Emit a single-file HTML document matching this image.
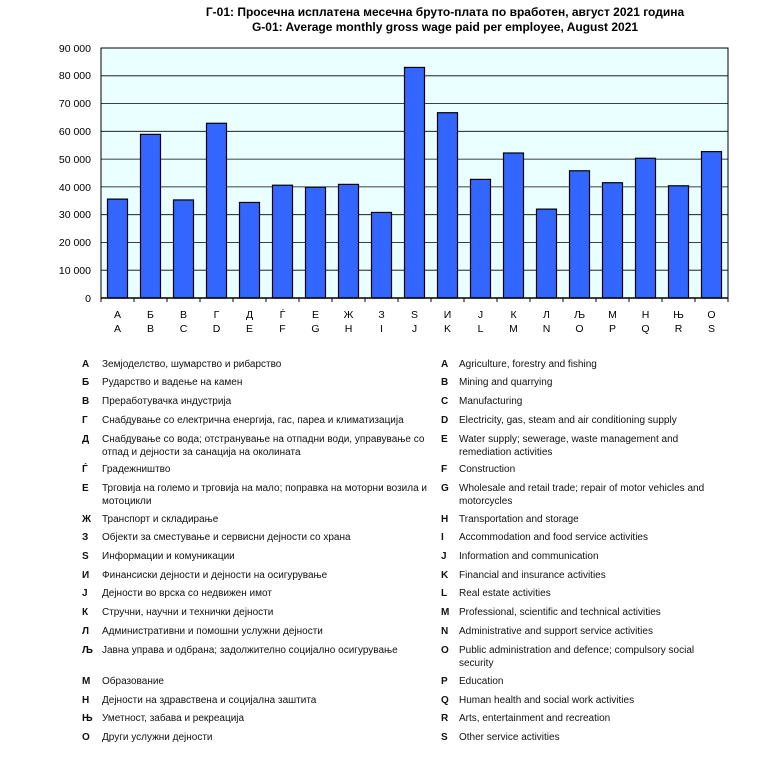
<!DOCTYPE html>
<html><head><meta charset="utf-8"><style>
body{margin:0;width:783px;height:762px;background:#fff;font-family:"Liberation Sans",sans-serif;position:relative;overflow:hidden}
.r{position:absolute;font-size:10px;line-height:12.5px;white-space:nowrap;color:#111;margin-top:1px}
.l{position:absolute;font-size:10px;font-weight:bold;color:#111;margin-top:1px}
</style></head><body>
<svg width="783" height="340" style="position:absolute;left:0;top:0" font-family="Liberation Sans, sans-serif">
<text x="445" y="16" text-anchor="middle" font-size="12" font-weight="bold">Г-01: Просечна исплатена месечна бруто-плата по вработен, август 2021 година</text>
<text x="445" y="31" text-anchor="middle" font-size="12" font-weight="bold">G-01: Average monthly gross wage paid per employee, August 2021</text>
<rect x="101" y="48" width="627" height="250" fill="#eaffff" stroke="#000" stroke-width="1"/>
<g stroke="#000" stroke-width="0.8">
<line x1="101" x2="728" y1="75.8" y2="75.8"/><line x1="101" x2="728" y1="103.6" y2="103.6"/>
<line x1="101" x2="728" y1="131.3" y2="131.3"/><line x1="101" x2="728" y1="159.1" y2="159.1"/>
<line x1="101" x2="728" y1="186.9" y2="186.9"/><line x1="101" x2="728" y1="214.7" y2="214.7"/>
<line x1="101" x2="728" y1="242.4" y2="242.4"/><line x1="101" x2="728" y1="270.2" y2="270.2"/>
</g>
<g font-size="10.5" text-anchor="end">
<text x="91" y="52">90 000</text><text x="91" y="79">80 000</text><text x="91" y="107">70 000</text>
<text x="91" y="135">60 000</text><text x="91" y="163">50 000</text><text x="91" y="191">40 000</text>
<text x="91" y="218">30 000</text><text x="91" y="246">20 000</text><text x="91" y="274">10 000</text>
<text x="91" y="302">0</text>
</g>
<g fill="#3366ff" stroke="#000" stroke-width="1.2" id="bars"></g>
<line x1="101" x2="728" y1="298" y2="298" stroke="#000" stroke-width="1.5"/>
<g id="ticks" stroke="#000"></g>
<g id="xl" font-size="10.5" text-anchor="middle"></g>
</svg>
<script>
var v=[35.6,58.9,35.3,62.9,34.4,40.6,39.9,40.9,30.8,83.0,66.7,42.7,52.2,32.0,45.8,41.5,50.3,40.4,52.7];
var a="А Б В Г Д Ѓ Е Ж З S И Ј К Л Љ М Н Њ О".split(" ");
var b="A B C D E F G H I J K L M N O P Q R S".split(" ");
var ns="http://www.w3.org/2000/svg",g=document.getElementById("bars"),t=document.getElementById("ticks"),x=document.getElementById("xl");
function el(n,p,par){var e=document.createElementNS(ns,n);for(var k in p)e.setAttribute(k,p[k]);par.appendChild(e);return e;}
for(var i=0;i<19;i++){var c=101+33*(i+0.5),h=v[i]/90*250;
el("rect",{x:c-10,y:298-h,width:20,height:h},g);
el("line",{x1:101+33*i,x2:101+33*i,y1:298,y2:302},t);
el("text",{x:c,y:318},x).textContent=a[i];
el("text",{x:c,y:332},x).textContent=b[i];}
el("line",{x1:728,x2:728,y1:298,y2:302},t);
</script>
<div class="l" style="left:82px;top:358px">А</div><div class="r" style="left:102px;top:358px">Земјоделство, шумарство и рибарство</div>
<div class="l" style="left:82px;top:376px">Б</div><div class="r" style="left:102px;top:376px">Рударство и вадење на камен</div>
<div class="l" style="left:82px;top:395px">В</div><div class="r" style="left:102px;top:395px">Преработувачка индустрија</div>
<div class="l" style="left:82px;top:414px">Г</div><div class="r" style="left:102px;top:414px">Снабдување со електрична енергија, гас, пареа и климатизација</div>
<div class="l" style="left:82px;top:433px">Д</div><div class="r" style="left:102px;top:433px">Снабдување со вода; отстранување на отпадни води, управување со<br>отпад и дејности за санација на околината</div>
<div class="l" style="left:82px;top:463px">Ѓ</div><div class="r" style="left:102px;top:463px">Градежништво</div>
<div class="l" style="left:82px;top:482px">Е</div><div class="r" style="left:102px;top:482px">Трговија на големо и трговија на мало; поправка на моторни возила и<br>мотоцикли</div>
<div class="l" style="left:82px;top:513px">Ж</div><div class="r" style="left:102px;top:513px">Транспорт и складирање</div>
<div class="l" style="left:82px;top:531px">З</div><div class="r" style="left:102px;top:531px">Објекти за сместување и сервисни дејности со храна</div>
<div class="l" style="left:82px;top:550px">S</div><div class="r" style="left:102px;top:550px">Информации и комуникации</div>
<div class="l" style="left:82px;top:569px">И</div><div class="r" style="left:102px;top:569px">Финансиски дејности и дејности на осигурување</div>
<div class="l" style="left:82px;top:587px">Ј</div><div class="r" style="left:102px;top:587px">Дејности во врска со недвижен имот</div>
<div class="l" style="left:82px;top:606px">К</div><div class="r" style="left:102px;top:606px">Стручни, научни и технички дејности</div>
<div class="l" style="left:82px;top:625px">Л</div><div class="r" style="left:102px;top:625px">Административни и помошни услужни дејности</div>
<div class="l" style="left:82px;top:644px">Љ</div><div class="r" style="left:102px;top:644px">Јавна управа и одбрана; задолжително социјално осигурување</div>
<div class="l" style="left:82px;top:675px">М</div><div class="r" style="left:102px;top:675px">Образование</div>
<div class="l" style="left:82px;top:694px">Н</div><div class="r" style="left:102px;top:694px">Дејности на здравствена и социјална заштита</div>
<div class="l" style="left:82px;top:712px">Њ</div><div class="r" style="left:102px;top:712px">Уметност, забава и рекреација</div>
<div class="l" style="left:82px;top:731px">О</div><div class="r" style="left:102px;top:731px">Други услужни дејности</div>

<div class="l" style="left:441px;top:358px">A</div><div class="r" style="left:459px;top:358px">Agriculture, forestry and fishing</div>
<div class="l" style="left:441px;top:376px">B</div><div class="r" style="left:459px;top:376px">Mining and quarrying</div>
<div class="l" style="left:441px;top:395px">C</div><div class="r" style="left:459px;top:395px">Manufacturing</div>
<div class="l" style="left:441px;top:414px">D</div><div class="r" style="left:459px;top:414px">Electricity, gas, steam and air conditioning supply</div>
<div class="l" style="left:441px;top:433px">E</div><div class="r" style="left:459px;top:433px">Water supply; sewerage, waste management and<br>remediation activities</div>
<div class="l" style="left:441px;top:463px">F</div><div class="r" style="left:459px;top:463px">Construction</div>
<div class="l" style="left:441px;top:482px">G</div><div class="r" style="left:459px;top:482px">Wholesale and retail trade; repair of motor vehicles and<br>motorcycles</div>
<div class="l" style="left:441px;top:513px">H</div><div class="r" style="left:459px;top:513px">Transportation and storage</div>
<div class="l" style="left:441px;top:531px">I</div><div class="r" style="left:459px;top:531px">Accommodation and food service activities</div>
<div class="l" style="left:441px;top:550px">J</div><div class="r" style="left:459px;top:550px">Information and communication</div>
<div class="l" style="left:441px;top:569px">K</div><div class="r" style="left:459px;top:569px">Financial and insurance activities</div>
<div class="l" style="left:441px;top:587px">L</div><div class="r" style="left:459px;top:587px">Real estate activities</div>
<div class="l" style="left:441px;top:606px">M</div><div class="r" style="left:459px;top:606px">Professional, scientific and technical activities</div>
<div class="l" style="left:441px;top:625px">N</div><div class="r" style="left:459px;top:625px">Administrative and support service activities</div>
<div class="l" style="left:441px;top:644px">O</div><div class="r" style="left:459px;top:644px">Public administration and defence; compulsory social<br>security</div>
<div class="l" style="left:441px;top:675px">P</div><div class="r" style="left:459px;top:675px">Education</div>
<div class="l" style="left:441px;top:694px">Q</div><div class="r" style="left:459px;top:694px">Human health and social work activities</div>
<div class="l" style="left:441px;top:712px">R</div><div class="r" style="left:459px;top:712px">Arts, entertainment and recreation</div>
<div class="l" style="left:441px;top:731px">S</div><div class="r" style="left:459px;top:731px">Other service activities</div>
</body></html>
